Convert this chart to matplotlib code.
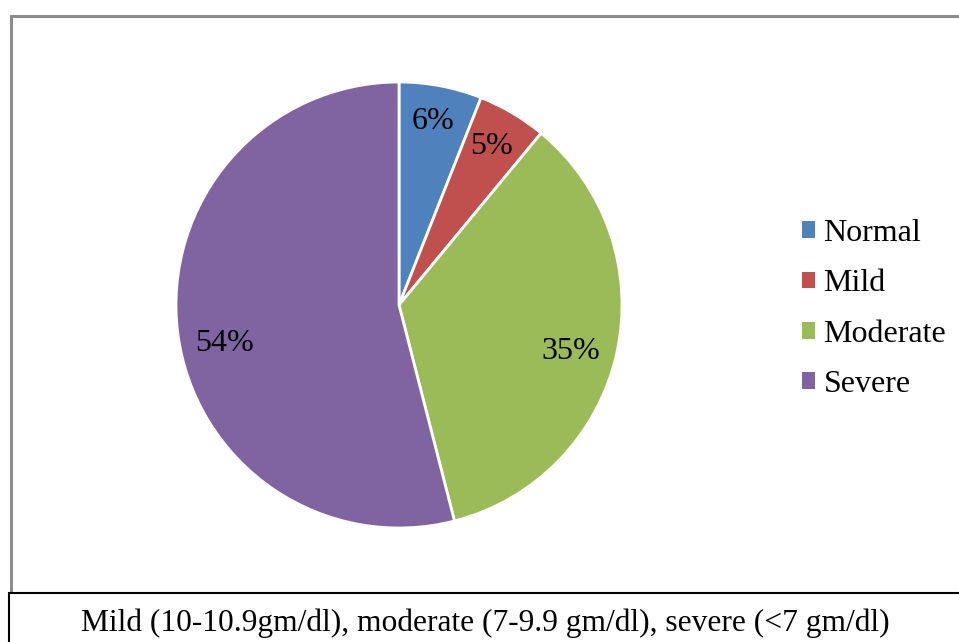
import matplotlib
matplotlib.use("Agg")
import matplotlib.pyplot as plt
from matplotlib.patches import Rectangle, Patch

categories = ["Normal", "Mild", "Moderate", "Severe"]
percentages = [6, 5, 35, 54]
colors = ["#4F81BD", "#C0504D", "#9BBB59", "#8064A2"]
caption = "Mild (10-10.9gm/dl), moderate (7-9.9 gm/dl), severe (<7 gm/dl)"

# fine placement of the percentage labels, in pixels (right, down)
label_nudge_px = [(0, -6), (1, -3), (-4, 7), (5, 16)]

plt.rcParams["font.family"] = ["Liberation Serif", "DejaVu Serif"]

W, H = 959, 642
fig = plt.figure(figsize=(W / 100, H / 100), dpi=100)

# pie axes: centre (399, 305) px, radius 223 px
cx, cy, r = 399, 305, 223
ax = fig.add_axes([(cx - r) / W, (H - cy - r) / H, 2 * r / W, 2 * r / H])
wedges, texts, autotexts = ax.pie(
    percentages,
    colors=colors,
    startangle=90,
    counterclock=False,
    autopct=lambda p: f"{p:.0f}%",
    pctdistance=0.81,
    wedgeprops=dict(edgecolor="white", linewidth=2),
    textprops=dict(fontsize=23, color="black"),
)
for t, (dx, dy) in zip(autotexts, label_nudge_px):
    x, y = t.get_position()
    t.set_position((x + dx / r, y - dy / r))
ax.set_xlim(-1, 1)
ax.set_ylim(-1, 1)
ax.set_aspect("equal")
ax.axis("off")

# legend on the right
handles = [Patch(facecolor=c, edgecolor="none") for c in colors]
fig.legend(
    handles, categories,
    loc="center left",
    bbox_to_anchor=(773 / W, 1 - 309 / H),
    frameon=False,
    fontsize=23,
    handlelength=0.42,
    handleheight=0.42,
    handletextpad=0.26,
    labelspacing=0.67,
)

# chart area border (gray) and caption box (black)
fig.patches.append(Rectangle((11 / W, -0.2), 1.2, 1 - 16 / H + 0.2,
                             transform=fig.transFigure, fill=False,
                             edgecolor="#8c8c8c", linewidth=2.2, clip_on=False))
fig.patches.append(Rectangle((9 / W, -0.2), 1.2, 1 - 593 / H + 0.2,
                             transform=fig.transFigure, facecolor="white",
                             edgecolor="black", linewidth=1.5, clip_on=False))
fig.text(485 / W, 1 - 623 / H, caption, ha="center", va="center", fontsize=22.7)

fig.savefig("out.png", dpi=100)
